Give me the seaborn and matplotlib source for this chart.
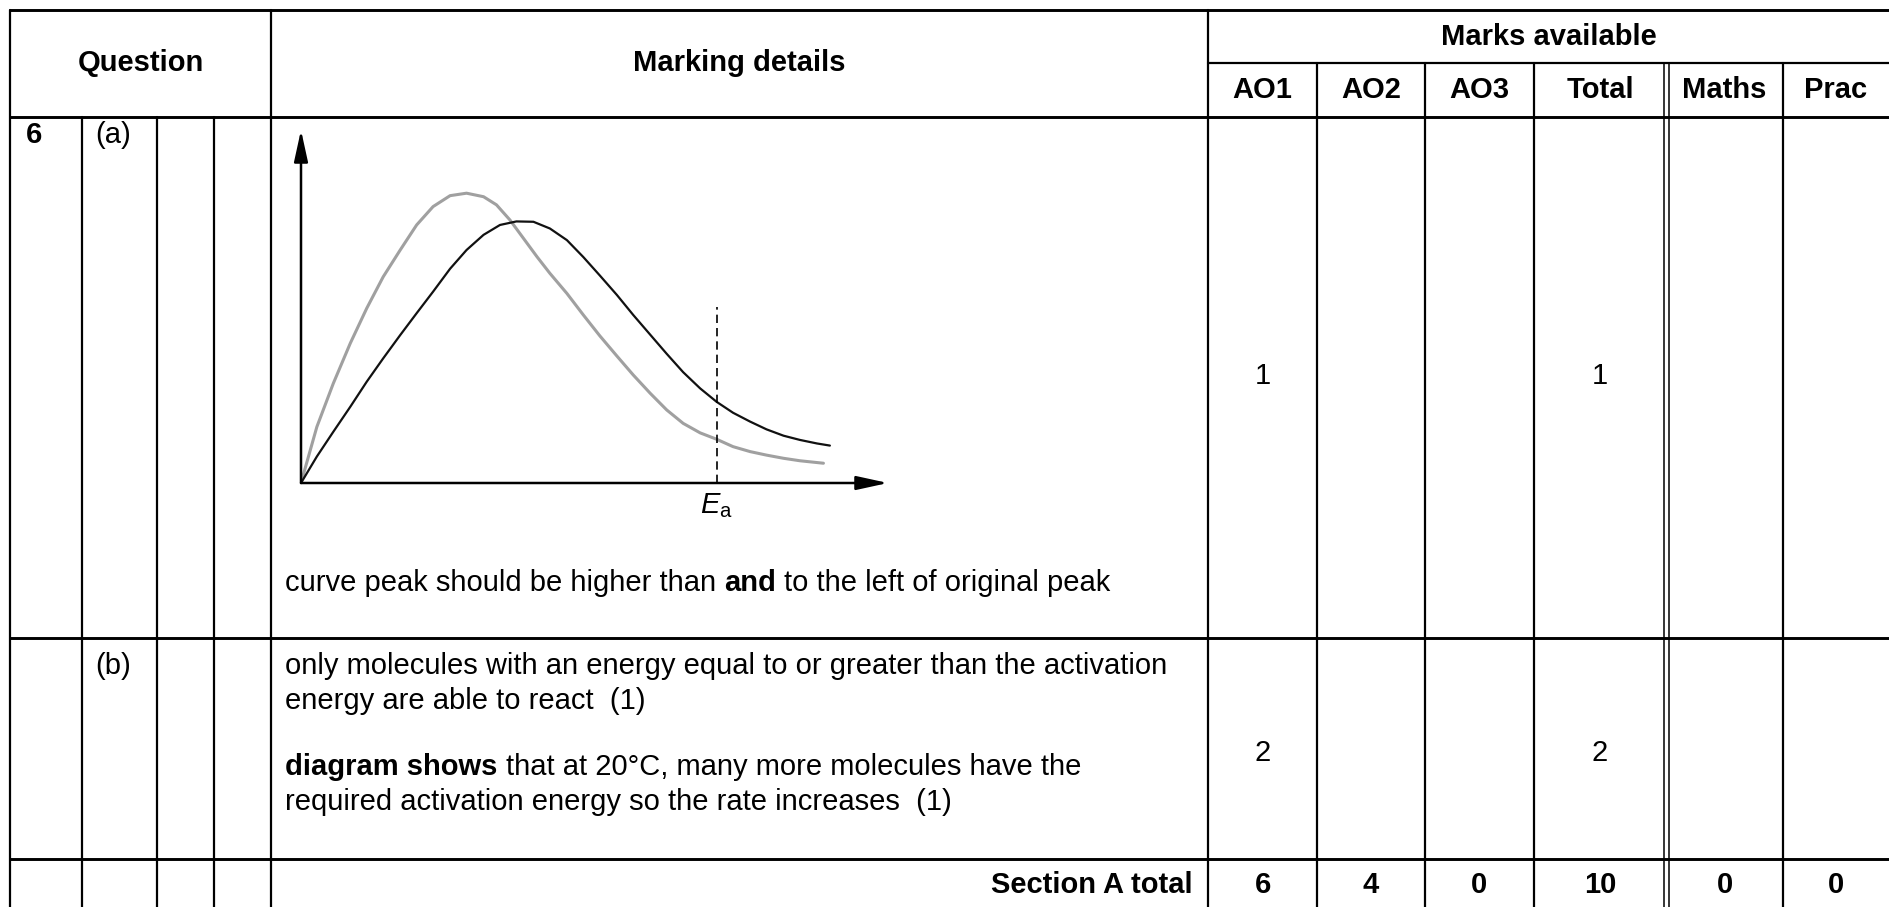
import matplotlib
matplotlib.use("Agg")
import matplotlib.pyplot as plt
import seaborn as sns

# Maxwell-Boltzmann curves (energy, number of molecules; arbitrary units)
energy_orig = [0, 2.7, 5.5, 8.4, 11.2, 14.0, 16.9, 19.7, 22.5, 25.4, 28.2, 31.1, 33.9,
               36.7, 39.6, 42.4, 45.3, 48.1, 50.9, 53.8, 56.6, 59.5, 62.3, 65.1, 68.0,
               70.8, 73.6, 76.5, 79.3, 82.2, 85.0, 87.9, 90.1]
count_orig = [0, 7.5, 14.5, 21.6, 28.7, 35.3, 41.9, 48.1, 54.2, 60.7, 66.0, 70.3, 73.1,
              74.1, 74.0, 72.1, 68.8, 64.0, 58.8, 53.3, 47.6, 42.0, 36.6, 31.4, 26.8,
              23.0, 19.9, 17.4, 15.2, 13.4, 12.2, 11.2, 10.6]
energy_new = [0, 2.7, 5.5, 8.4, 11.2, 14.0, 16.9, 19.7, 22.5, 25.4, 28.2, 31.1, 33.3,
              35.6, 37.9, 40.2, 42.4, 45.3, 48.1, 50.9, 53.8, 56.6, 59.5, 62.3, 65.1,
              68.0, 70.8, 73.6, 76.5, 79.3, 82.2, 85.0, 89.0]
count_new = [0, 15.9, 28.2, 39.6, 49.5, 58.4, 66.0, 73.1, 78.3, 81.4, 82.1, 81.1, 78.8,
             74.5, 69.3, 64.1, 59.4, 53.7, 47.6, 41.7, 36.0, 30.6, 25.4, 20.7, 16.9,
             14.2, 12.4, 10.3, 8.9, 7.9, 7.0, 6.3, 5.6]
ea_energy = 70.8
ea_top = 49.9

# table contents
ao_headers = ["AO1", "AO2", "AO3", "Total", "Maths", "Prac"]
row_a_marks = ["1", "", "", "1", "", ""]
row_b_marks = ["2", "", "", "2", "", ""]
section_totals = ["6", "4", "0", "10", "0", "0"]

sns.set_theme(style="white")
plt.rcParams["font.family"] = ["Liberation Sans", "DejaVu Sans"]
plt.rcParams["text.color"] = "black"
plt.rcParams["mathtext.fontset"] = "custom"
plt.rcParams["mathtext.rm"] = "Liberation Sans"
plt.rcParams["mathtext.it"] = "Liberation Sans:italic"

W, H = 1889, 907
fig = plt.figure(figsize=(W / 100, H / 100), dpi=100)
ax = fig.add_axes([0, 0, 1, 1])
ax.set_xlim(0, W)
ax.set_ylim(H, 0)
ax.axis("off")

fs = 21
lw_v = 1.6
lw_h = 2.1

# grid layout (pixels)
x_left = 10
q_cols = [82, 157, 214]
x_md = 271
mark_cols = [1208, 1317, 1425, 1534, 1666, 1783, W]
y_top, y_marks, y_head, y_a, y_b = 10, 63, 117, 638, 859

# horizontal rules
ax.plot([x_left, W], [y_top, y_top], color="black", lw=lw_h)
ax.plot([mark_cols[0], W], [y_marks, y_marks], color="black", lw=lw_v)
for yy in [y_head, y_a, y_b]:
    ax.plot([x_left, W], [yy, yy], color="black", lw=lw_h)

# vertical rules
ax.plot([x_left, x_left], [y_top, H], color="black", lw=lw_v)
ax.plot([x_md, x_md], [y_top, H], color="black", lw=lw_v)
ax.plot([mark_cols[0], mark_cols[0]], [y_top, H], color="black", lw=lw_v)
for xx in q_cols:
    ax.plot([xx, xx], [y_head, H], color="black", lw=lw_v)
for xx in mark_cols[1:-1]:
    if xx == 1666:
        for dx in (-2.5, 2.5):
            ax.plot([xx + dx, xx + dx], [y_marks, H], color="black", lw=1.1)
    else:
        ax.plot([xx, xx], [y_marks, H], color="black", lw=lw_v)

centres = [(mark_cols[i] + mark_cols[i + 1]) / 2 for i in range(6)]

# header text
ax.text((x_left + x_md) / 2, 63, "Question", ha="center", va="center", fontsize=fs, fontweight="bold")
ax.text((x_md + mark_cols[0]) / 2, 63, "Marking details", ha="center", va="center", fontsize=fs, fontweight="bold")
ax.text((mark_cols[0] + W) / 2, 37, "Marks available", ha="center", va="center", fontsize=fs, fontweight="bold")
for cx, lab in zip(centres, ao_headers):
    ax.text(cx, 90, lab, ha="center", va="center", fontsize=fs, fontweight="bold")

# question labels
ax.text(26, 135, "6", ha="left", va="center", fontsize=fs, fontweight="bold")
ax.text(95, 135, "(a)", ha="left", va="center", fontsize=fs)
ax.text(95, 666, "(b)", ha="left", va="center", fontsize=fs)

for cx, a, b, t in zip(centres, row_a_marks, row_b_marks, section_totals):
    ax.text(cx, 376, a, ha="center", va="center", fontsize=fs)
    ax.text(cx, 753, b, ha="center", va="center", fontsize=fs)
    ax.text(cx, 885, t, ha="center", va="center", fontsize=fs, fontweight="bold")

ax.text(1193, 885, "Section A total", ha="right", va="center", fontsize=fs, fontweight="bold")

renderer = fig.canvas.get_renderer()


def text_width(s, weight):
    t = ax.text(0, 0, s, fontsize=fs, fontweight=weight)
    w = t.get_window_extent(renderer).width
    t.remove()
    return w


space_w = text_width("a a", "normal") - text_width("aa", "normal")


def rich_line(x, y, parts):
    for i, (s, weight) in enumerate(parts):
        t = ax.text(x, y, s, ha="left", va="center", fontsize=fs, fontweight=weight)
        x += t.get_window_extent(renderer).width
        if i < len(parts) - 1:
            x += space_w


x_txt = 285
rich_line(x_txt, 583, [("curve peak should be higher than", "normal"), ("and", "bold"),
                       ("to the left of original peak", "normal")])
rich_line(x_txt, 666, [("only molecules with an energy equal to or greater than the activation", "normal")])
rich_line(x_txt, 701, [("energy are able to react  (1)", "normal")])
rich_line(x_txt, 767, [("diagram shows", "bold"), ("that at 20°C, many more molecules have the", "normal")])
rich_line(x_txt, 802, [("required activation energy so the rate increases  (1)", "normal")])

# the distribution chart inside row (a)
cx0, cx1, cy0, cy1 = 301, 888, 483, 130
cax = fig.add_axes([cx0 / W, (H - cy0) / H, (cx1 - cx0) / W, (cy0 - cy1) / H])
cax.set_xlim(0, 100)
cax.set_ylim(0, 100)
cax.patch.set_alpha(0)
for sp in cax.spines.values():
    sp.set_visible(False)
cax.set_xticks([])
cax.set_yticks([])

sns.lineplot(x=energy_new, y=count_new, ax=cax, color="#a0a0a0", lw=2.2, sort=False, estimator=None)
sns.lineplot(x=energy_orig, y=count_orig, ax=cax, color="#111111", lw=1.6, sort=False, estimator=None)
cax.plot([ea_energy, ea_energy], [0, ea_top], color="black", lw=1.2, ls=(0, (5, 3)))

arrow = dict(arrowstyle="-|>,head_length=1.6,head_width=0.35", color="black", lw=1.8, shrinkA=0, shrinkB=0)
cax.annotate("", xy=(100, 0), xytext=(0, 0), arrowprops=arrow, annotation_clip=False)
cax.annotate("", xy=(0, 100), xytext=(0, 0), arrowprops=arrow, annotation_clip=False)
cax.text(ea_energy, -6.5, r"$E_\mathrm{a}$", ha="center", va="center", fontsize=fs)

fig.savefig("out.png", dpi=100)
